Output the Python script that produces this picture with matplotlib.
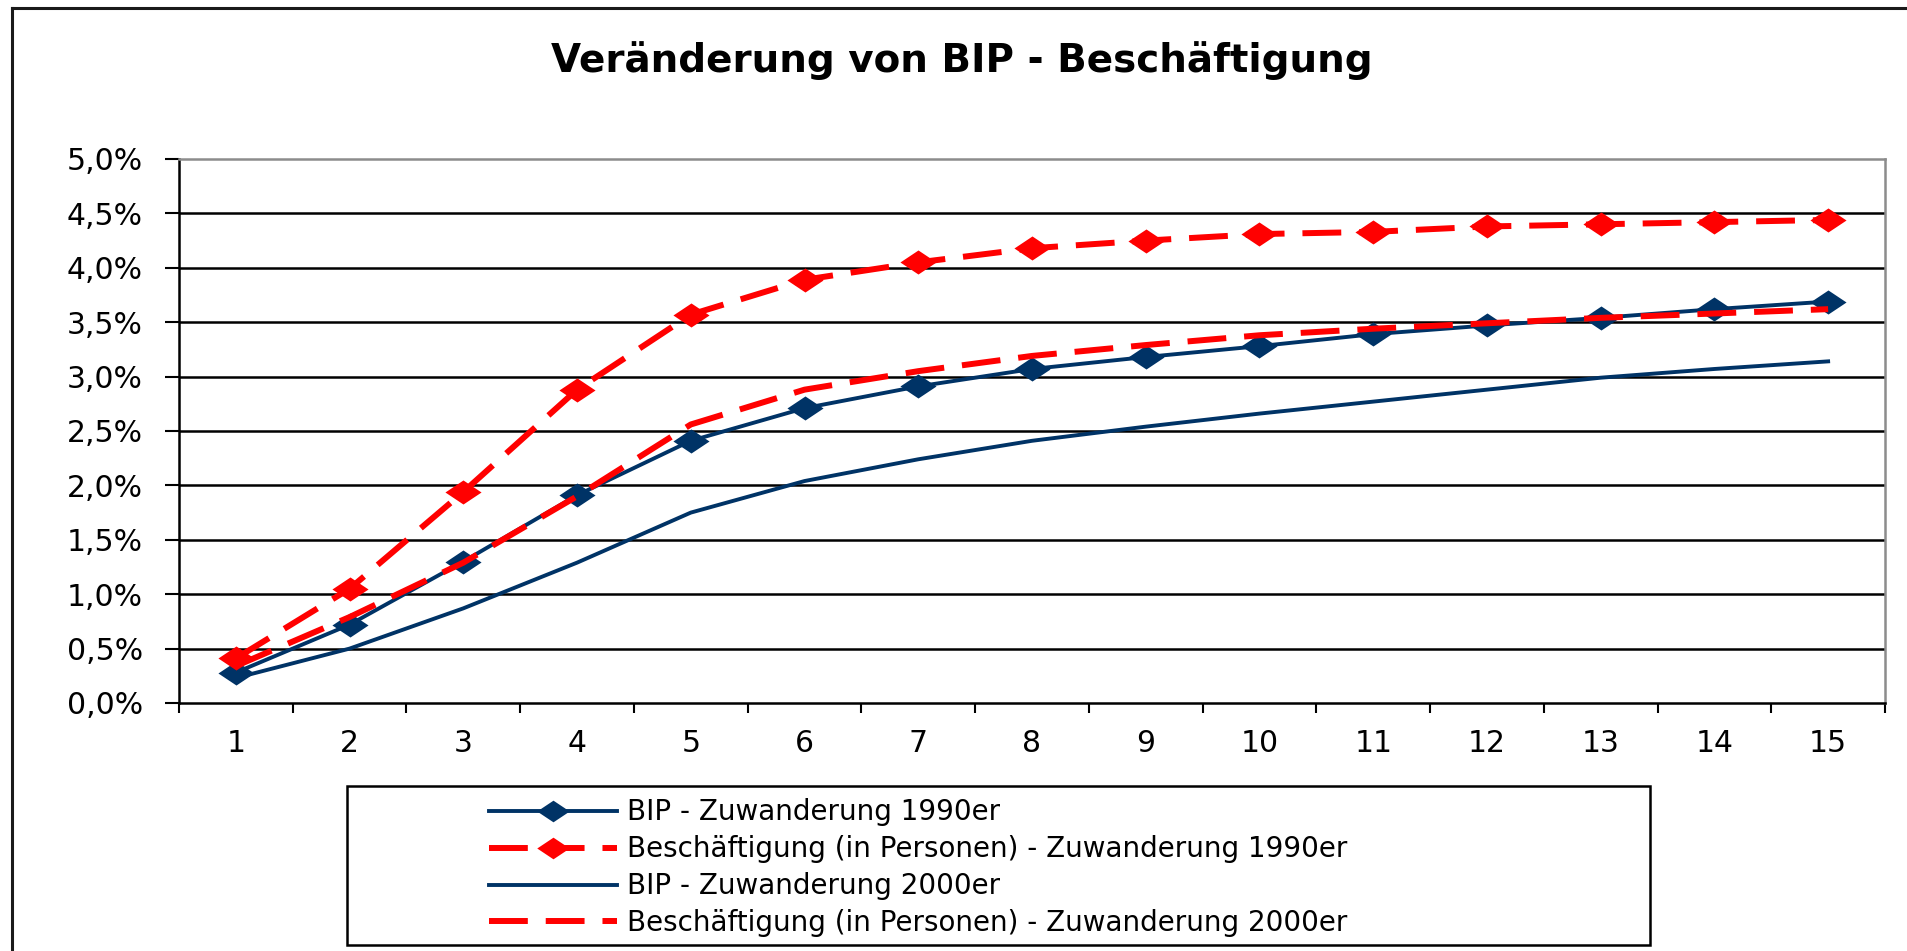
import matplotlib
matplotlib.use("Agg")
import matplotlib.pyplot as plt
from matplotlib.lines import Line2D
from matplotlib.patches import Rectangle
from matplotlib.ticker import FixedLocator, FuncFormatter

# ---- data ----
periods = list(range(1, 16))
period_labels = [str(p) for p in periods]
bip_1990 = [0.28, 0.72, 1.30, 1.91, 2.41, 2.71, 2.91, 3.07, 3.18, 3.28, 3.39, 3.47, 3.54, 3.62, 3.69]
besch_1990 = [0.41, 1.05, 1.94, 2.88, 3.57, 3.89, 4.05, 4.18, 4.25, 4.31, 4.33, 4.38, 4.40, 4.42, 4.44]
bip_2000 = [0.23, 0.50, 0.87, 1.29, 1.75, 2.04, 2.24, 2.41, 2.54, 2.66, 2.77, 2.88, 2.99, 3.07, 3.14]
besch_2000 = [0.34, 0.79, 1.29, 1.90, 2.56, 2.88, 3.05, 3.19, 3.29, 3.38, 3.44, 3.49, 3.54, 3.58, 3.62]
series_names = [
    "BIP - Zuwanderung 1990er",
    "Beschäftigung (in Personen) - Zuwanderung 1990er",
    "BIP - Zuwanderung 2000er",
    "Beschäftigung (in Personen) - Zuwanderung 2000er",
]
y_ticks = [i * 0.5 for i in range(11)]

NAVY = "#003366"
RED = "#FF0000"
plt.rcParams['font.family'] = ['DejaVu Sans']

W, H = 1907, 951
fig = plt.figure(figsize=(W / 100, H / 100), dpi=100)
fig.patch.set_facecolor("white")

ax = fig.add_axes([179 / W, 1 - 703 / H, (1885 - 179) / W, (703 - 159) / H])

diamond = [(-1.5, 0), (0, 1), (1.5, 0), (0, -1), (-1.5, 0)]

l1, = ax.plot(periods, bip_1990, color=NAVY, lw=2.8, marker=diamond, ms=26,
              mec=NAVY, mfc=NAVY, mew=0, zorder=3)
l2, = ax.plot(periods, besch_1990, color=RED, lw=4.3, ls=(0, (6.5, 3.0)), marker=diamond, ms=26,
              mec=RED, mfc=RED, mew=0, zorder=3)
l3, = ax.plot(periods, bip_2000, color=NAVY, lw=2.8, zorder=3)
l4, = ax.plot(periods, besch_2000, color=RED, lw=4.3, ls=(0, (6.5, 3.0)), zorder=3)

ax.set_xlim(0.5, 15.5)
ax.set_ylim(0, 5)
ax.xaxis.set_major_locator(FixedLocator([i + 0.5 for i in range(16)]))
ax.xaxis.set_major_formatter(FuncFormatter(lambda v, p: ""))
ax.xaxis.set_minor_locator(FixedLocator(periods))
ax.set_xticklabels(period_labels, minor=True)
ax.tick_params(axis='x', which='major', direction='out', length=7.2, width=1.5, color='black')
ax.tick_params(axis='x', which='minor', length=0, pad=19, labelsize=21.5)

ax.set_yticks(y_ticks)
ax.set_yticklabels([f"{v:.1f}%".replace(".", ",") for v in y_ticks])
ax.tick_params(axis='y', direction='out', length=10, width=1.5, color='black', pad=16, labelsize=21.5)

for v in y_ticks[1:-1]:
    ax.axhline(v, color='black', lw=1.8, zorder=1)

ax.spines['left'].set_color('black')
ax.spines['left'].set_linewidth(1.8)
ax.spines['bottom'].set_color('black')
ax.spines['bottom'].set_linewidth(1.8)
ax.spines['top'].set_color('#8c8c8c')
ax.spines['top'].set_linewidth(1.8)
ax.spines['right'].set_color('#8c8c8c')
ax.spines['right'].set_linewidth(1.8)

# title
fig.text(962 / W, 1 - 61 / H, "Veränderung von BIP - Beschäftigung", ha='center', va='center',
         fontsize=28, fontweight='bold')

# outer chart border (left and top)
fig.add_artist(Line2D([12 / W, 12 / W], [0, 1 - 8 / H], transform=fig.transFigure, color='#1a1a1a', lw=2.2))
fig.add_artist(Line2D([12 / W, 1], [1 - 8 / H, 1 - 8 / H], transform=fig.transFigure, color='#1a1a1a', lw=2.2))

# legend frame
fig.add_artist(Rectangle((347 / W, 1 - 945 / H), (1650 - 347) / W, (945 - 786) / H,
                         transform=fig.transFigure, fill=False, edgecolor='black', lw=1.8))
leg = fig.legend([l1, l2, l3, l4], series_names, loc='upper left',
                 bbox_to_anchor=(470 / W, 1 - 779 / H), frameon=False, fontsize=20,
                 handlelength=4.6, handletextpad=0.35, labelspacing=0.32, numpoints=1,
                 borderpad=0.2, markerscale=0.9)

fig.savefig("out.png", dpi=100, facecolor="white")
